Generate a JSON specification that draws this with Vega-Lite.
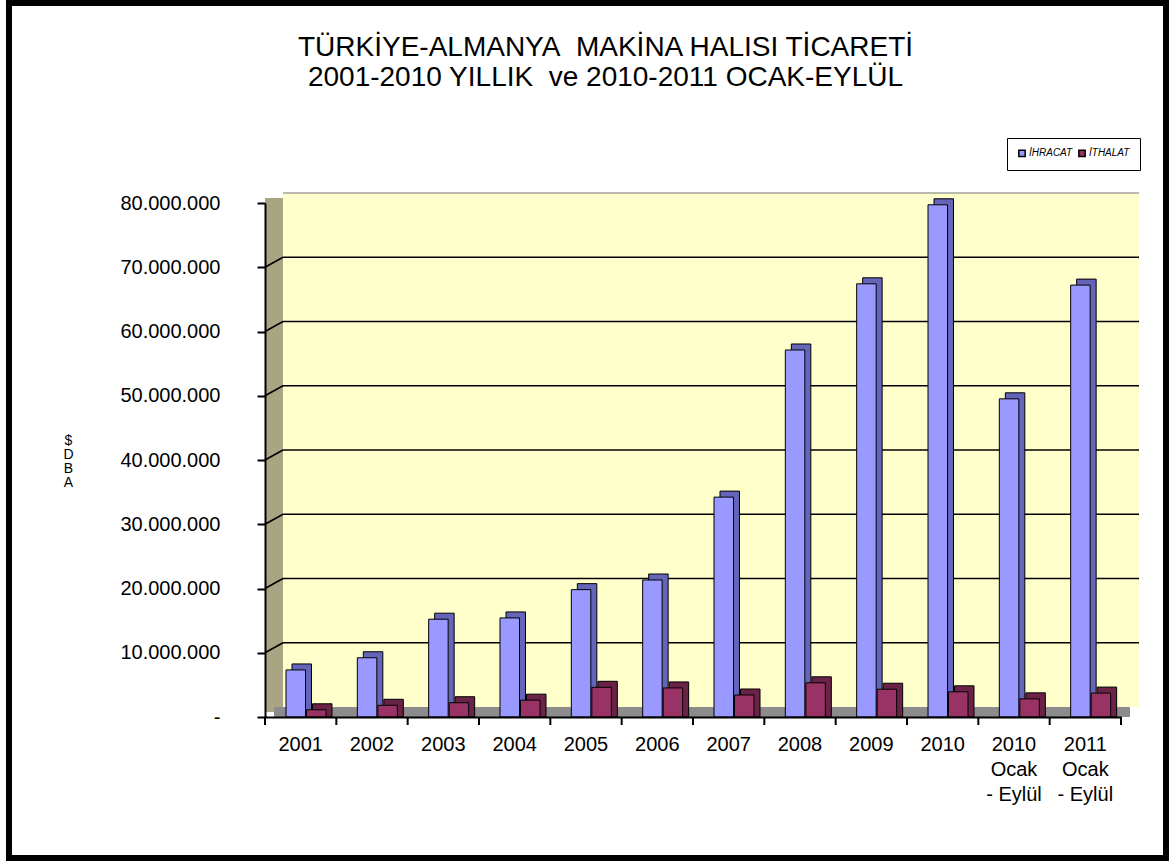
{
  "$schema": "https://vega.github.io/schema/vega-lite/v6.json",
  "width": 1157,
  "height": 855,
  "autosize": {"type": "none"},
  "padding": {"left": 9, "top": 3, "right": 4, "bottom": 3},
  "background": "white",
  "config": {
    "view": {"stroke": "black", "strokeWidth": 6, "fill": "white"},
    "font": "Liberation Sans",
    "locale": {"number": {"decimal": ",", "thousands": ".", "grouping": [3], "currency": ["", " TL"]}}
  },
  "title": {
    "text": ["TÜRKİYE-ALMANYA\u00a0 MAKİNA HALISI TİCARETİ", "2001-2010 YILLIK\u00a0 ve 2010-2011 OCAK-EYLÜL"],
    "fontSize": 28,
    "fontWeight": "normal",
    "font": "Liberation Sans",
    "lineHeight": 30,
    "color": "black",
    "anchor": "middle",
    "frame": "group",
    "baseline": "top",
    "offset": -89,
    "dx": 18
  },
  "datasets": {
    "trade": [
      {"year": "2001", "series": "İHRACAT", "value": 6700000},
      {"year": "2002", "series": "İHRACAT", "value": 8600000},
      {"year": "2003", "series": "İHRACAT", "value": 14600000},
      {"year": "2004", "series": "İHRACAT", "value": 14800000},
      {"year": "2005", "series": "İHRACAT", "value": 19200000},
      {"year": "2006", "series": "İHRACAT", "value": 20700000},
      {"year": "2007", "series": "İHRACAT", "value": 33600000},
      {"year": "2008", "series": "İHRACAT", "value": 56500000},
      {"year": "2009", "series": "İHRACAT", "value": 66800000},
      {"year": "2010", "series": "İHRACAT", "value": 79100000},
      {"year": "2010 Ocak - Eylül", "series": "İHRACAT", "value": 48900000},
      {"year": "2011 Ocak - Eylül", "series": "İHRACAT", "value": 66600000},
      {"year": "2001", "series": "İTHALAT", "value": 500000},
      {"year": "2002", "series": "İTHALAT", "value": 1200000},
      {"year": "2003", "series": "İTHALAT", "value": 1600000},
      {"year": "2004", "series": "İTHALAT", "value": 2000000},
      {"year": "2005", "series": "İTHALAT", "value": 4000000},
      {"year": "2006", "series": "İTHALAT", "value": 3900000},
      {"year": "2007", "series": "İTHALAT", "value": 2800000},
      {"year": "2008", "series": "İTHALAT", "value": 4700000},
      {"year": "2009", "series": "İTHALAT", "value": 3700000},
      {"year": "2010", "series": "İTHALAT", "value": 3300000},
      {"year": "2010 Ocak - Eylül", "series": "İTHALAT", "value": 2200000},
      {"year": "2011 Ocak - Eylül", "series": "İTHALAT", "value": 3100000}
    ],
    "grid": [
      {"v": 10000000}, {"v": 20000000}, {"v": 30000000}, {"v": 40000000},
      {"v": 50000000}, {"v": 60000000}, {"v": 70000000}
    ],
    "wall": [{"part": "wall"}]
  },
  "data": {"name": "trade"},
  "resolve": {"scale": {"xOffset": "independent"}},
  "layer": [
    {
      "data": {"name": "wall"},
      "mark": {"type": "rect", "color": "#FFFFCC", "xOffset": 18, "x2Offset": 18, "yOffset": -10, "y2Offset": -10},
      "encoding": {
        "x": {
          "datum": "2001",
          "type": "nominal",
          "bandPosition": 0,
          "scale": {
            "domain": ["2001", "2002", "2003", "2004", "2005", "2006", "2007", "2008", "2009", "2010", "2010 Ocak - Eylül", "2011 Ocak - Eylül"],
            "range": [256, 1112],
            "paddingInner": 0,
            "paddingOuter": 0
          },
          "axis": {
            "orient": "bottom",
            "offset": -141,
            "zindex": 1,
            "title": null,
            "domain": true,
            "domainColor": "black",
            "domainWidth": 2,
            "ticks": false,
            "grid": false,
            "labelAngle": 0,
            "labelFontSize": 20,
            "labelFont": "Liberation Sans",
            "labelColor": "black",
            "labelPadding": 17,
            "labelBaseline": "top",
            "labelLineHeight": 25,
            "labelOverlap": false,
            "labelBound": false,
            "labelExpr": "length(datum.value) > 4 ? [substring(datum.value, 0, 4), substring(datum.value, 5, 9), substring(datum.value, 10)] : datum.value"
          }
        },
        "x2": {"datum": "2011 Ocak - Eylül", "bandPosition": 1},
        "y": {
          "datum": 80000000,
          "type": "quantitative",
          "scale": {"domain": [0, 80000000], "range": [714, 200], "nice": false, "zero": true},
          "axis": {
            "orient": "left",
            "offset": -256,
            "zindex": 1,
            "values": [0, 10000000, 20000000, 30000000, 40000000, 50000000, 60000000, 70000000, 80000000],
            "format": ",d",
            "labelExpr": "datum.value == 0 ? '-\u00a0\u00a0\u00a0\u00a0' : datum.label",
            "grid": false,
            "domain": true,
            "domainColor": "black",
            "domainWidth": 2,
            "ticks": true,
            "tickColor": "black",
            "tickWidth": 2,
            "tickSize": 8,
            "labelFontSize": 20,
            "labelFont": "Liberation Sans",
            "labelColor": "black",
            "labelPadding": 37,
            "labelBaseline": "middle",
            "title": ["$", "D", "B", "A"],
            "titleAngle": 0,
            "titleFontSize": 14,
            "titleFont": "Liberation Sans",
            "titleFontWeight": "normal",
            "titleColor": "black",
            "titleLineHeight": 14,
            "titleAlign": "center",
            "titleBaseline": "top",
            "titleX": -197,
            "titleY": 430
          }
        },
        "y2": {"datum": 0}
      }
    },
    {
      "data": {"name": "wall"},
      "mark": {"type": "rule", "strokeWidth": 18, "strokeCap": "butt", "color": "#A8A583", "xOffset": 9, "yOffset": -5, "y2Offset": -5},
      "encoding": {
        "x": {"datum": "2001", "type": "nominal", "bandPosition": 0},
        "y": {"datum": 80000000, "type": "quantitative"},
        "y2": {"datum": 0}
      }
    },
    {
      "data": {"name": "wall"},
      "mark": {"type": "tick", "orient": "horizontal", "size": 856, "thickness": 10, "color": "#8C8C8C", "opacity": 1, "xOffset": -26.67, "yOffset": -5},
      "encoding": {
        "x": {"datum": "2007", "type": "nominal"},
        "y": {"datum": 0, "type": "quantitative"}
      }
    },
    {
      "data": {"name": "grid"},
      "mark": {"type": "tick", "orient": "horizontal", "size": 856, "thickness": 1.6, "color": "black", "opacity": 1, "xOffset": -17.67, "yOffset": -10},
      "encoding": {
        "x": {"datum": "2007", "type": "nominal"},
        "y": {"field": "v", "type": "quantitative"}
      }
    },
    {
      "data": {"name": "grid"},
      "mark": {"type": "rule", "strokeWidth": 1.6, "color": "black", "x2Offset": 18, "y2Offset": -10},
      "encoding": {
        "x": {"datum": "2001", "type": "nominal", "bandPosition": 0},
        "x2": {"datum": "2001", "bandPosition": 0},
        "y": {"field": "v", "type": "quantitative"},
        "y2": {"field": "v"}
      }
    },
    {
      "data": {"name": "wall"},
      "mark": {"type": "tick", "orient": "horizontal", "size": 856, "thickness": 1.2, "color": "#777777", "strokeDash": [2, 1], "opacity": 1, "xOffset": -17.67, "yOffset": -10},
      "encoding": {
        "x": {"datum": "2007", "type": "nominal"},
        "y": {"datum": 80000000, "type": "quantitative"}
      }
    },
    {
      "mark": {"type": "bar", "stroke": "black", "strokeWidth": 1, "yOffset": -10, "y2Offset": -10},
      "encoding": {
        "x": {"field": "year", "type": "nominal"},
        "xOffset": {"field": "series", "type": "nominal", "scale": {"range": [27, 67], "paddingInner": 0.05, "paddingOuter": 0}},
        "y": {"field": "value", "type": "quantitative", "stack": null},
        "color": {"condition": {"test": "datum.series == 'İHRACAT'", "value": "#6464B8"}, "value": "#6A2347"}
      }
    },
    {
      "mark": {"type": "bar", "stroke": "black", "strokeWidth": 1, "yOffset": -4, "y2Offset": -4},
      "encoding": {
        "x": {"field": "year", "type": "nominal"},
        "xOffset": {"field": "series", "type": "nominal", "scale": {"range": [21, 61], "paddingInner": 0.05, "paddingOuter": 0}},
        "y": {"field": "value", "type": "quantitative", "stack": null},
        "color": {
          "field": "series",
          "type": "nominal",
          "scale": {"domain": ["İHRACAT", "İTHALAT"], "range": ["#9999FF", "#993366"]},
          "legend": {
            "orient": "none",
            "legendX": 998,
            "legendY": 135,
            "direction": "horizontal",
            "title": null,
            "strokeColor": "black",
            "fillColor": "white",
            "padding": 10,
            "symbolType": "square",
            "symbolSize": 40,
            "symbolStrokeColor": "black",
            "symbolStrokeWidth": 1.5,
            "symbolOpacity": 1,
            "labelFontSize": 10,
            "labelFontStyle": "italic",
            "labelFont": "Liberation Sans",
            "labelColor": "black",
            "labelOffset": 2,
            "columnPadding": 2
          }
        }
      }
    },
    {
      "transform": [{"filter": "datum.series == 'İHRACAT'"}],
      "mark": {"type": "rule", "strokeWidth": 2, "color": "black", "y2Offset": 8},
      "encoding": {
        "x": {"field": "year", "type": "nominal", "bandPosition": 0},
        "y": {"datum": 0, "type": "quantitative"},
        "y2": {"datum": 0}
      }
    },
    {
      "data": {"name": "wall"},
      "mark": {"type": "rule", "strokeWidth": 2, "color": "black", "y2Offset": 8},
      "encoding": {
        "x": {"datum": "2011 Ocak - Eylül", "type": "nominal", "bandPosition": 1},
        "y": {"datum": 0, "type": "quantitative"},
        "y2": {"datum": 0}
      }
    }
  ]
}
